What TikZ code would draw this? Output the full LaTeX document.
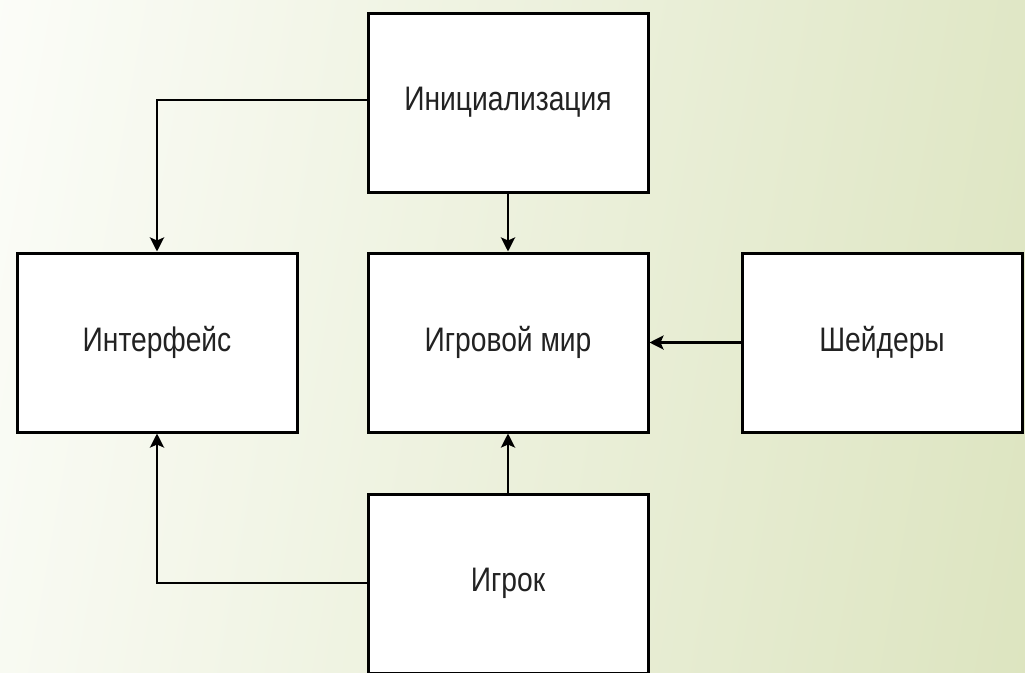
\documentclass[tikz,border=0pt]{standalone}
\usepackage{fontspec}
\setmainfont[FakeStretch=0.83]{Liberation Sans}
\usetikzlibrary{arrows.meta}
\definecolor{bgL}{HTML}{FCFDF9}
\definecolor{bgR}{HTML}{DCE4BF}
\definecolor{txt}{HTML}{222222}
\tikzset{
  x=1pt, y=-1pt,
  box/.style={draw=black, line width=3pt, fill=white, minimum width=280pt, minimum height=179pt, inner sep=0pt, font=\fontsize{34}{40}\selectfont, text=txt},
  conn/.style={draw=black, line width=2.8pt, -{Stealth[length=14pt,width=14pt,inset=3pt]}}
}
\begin{document}
\begin{tikzpicture}
\useasboundingbox (0,0) rectangle (1025,672);
\shade[left color=bgL, right color=bgR, shading angle=80] (-100,-100) rectangle (1125,772);
\node[box] (init) at (508,102.5) {Инициализация};
\node[box] (world) at (508,342.5) {Игровой мир};
\node[box] (ui) at (157,342.5) {Интерфейс};
\node[box] (shad) at (882,342.5) {Шейдеры};
\node[box] (player) at (508,583.5) {Игрок};
\draw[conn] (init.west |- 0,100) -| (ui.north);
\draw[conn] (init.south) -- (world.north);
\draw[conn] (shad.west) -- (world.east);
\draw[conn] (player.north) -- (world.south);
\draw[conn] (player.west |- 0,583) -| (ui.south);
\end{tikzpicture}
\end{document}
